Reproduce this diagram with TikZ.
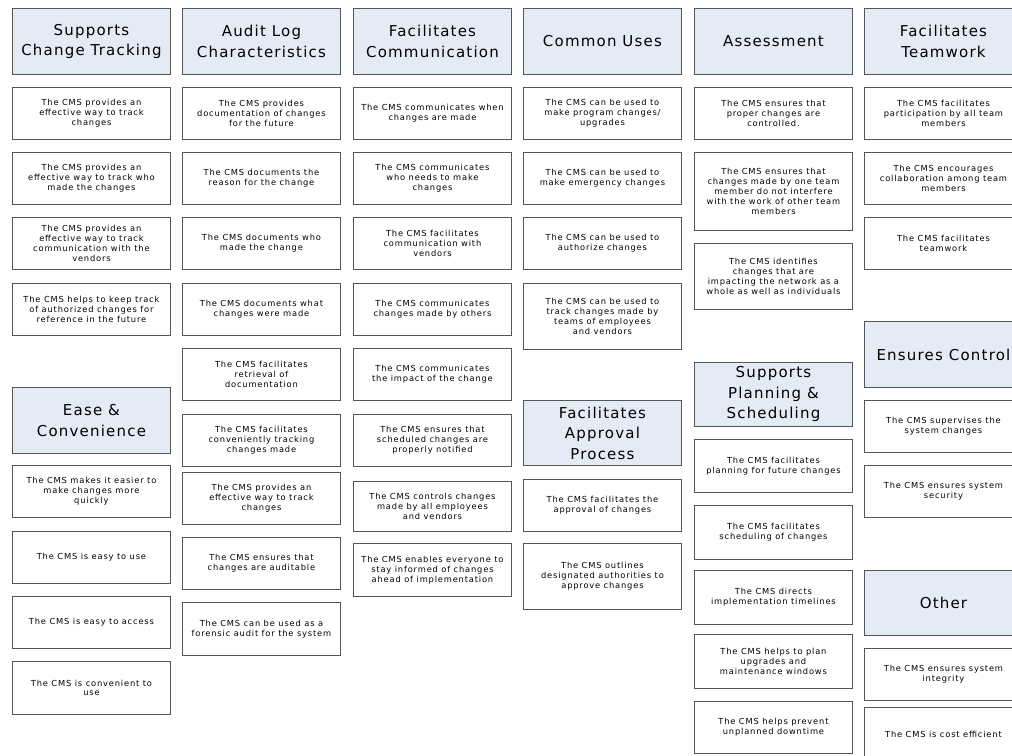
\documentclass[tikz,border=0pt]{standalone}
\usepackage{fontspec}
\newfontfamily\dvsh[LetterSpace=8]{DejaVu Sans}
\newfontfamily\dvsi[LetterSpace=10]{DejaVu Sans}
\definecolor{hdrfill}{HTML}{E5EBF5}
\definecolor{bordergray}{HTML}{555555}
\newcommand{\hdrfont}{\dvsh\fontsize{15}{20.5}\selectfont}
\newcommand{\itemfont}{\dvsi\fontsize{8.3}{9.8}\selectfont}
\tikzset{
  hdr/.style={draw=bordergray, fill=hdrfill, line width=0.9pt, minimum width=158pt,
    inner sep=0pt, anchor=north west, align=center, font=\hdrfont},
  item/.style={draw=bordergray, fill=white, line width=0.9pt, minimum width=158pt,
    inner sep=0pt, anchor=north west, align=center, font=\itemfont}
}
\begin{document}
\begin{tikzpicture}[x=1pt,y=-1pt]
\useasboundingbox (0,0) rectangle (1012,755);
\clip (0,0) rectangle (1012,755);
\fill[white] (0,0) rectangle (1012,755);
% Column 1
\node[hdr, minimum height=66pt] (h1) at (12,8) {Supports\\Change Tracking};
\node[item, minimum height=52pt] (a1) at (12,87) {The CMS provides an\\effective way to track\\changes};
\node[item, minimum height=52pt] (a2) at (12,152) {The CMS provides an\\effective way to track who\\made the changes};
\node[item, minimum height=52pt] (a3) at (12,217) {The CMS provides an\\effective way to track\\communication with the\\vendors};
\node[item, minimum height=52pt] (a4) at (12,283) {The CMS helps to keep track\\of authorized changes for\\reference in the future};
\node[hdr, minimum height=66pt] (h2) at (12,387) {Ease \&\\Convenience};
\node[item, minimum height=52pt] (a5) at (12,465) {The CMS makes it easier to\\make changes more\\quickly};
\node[item, minimum height=52pt] (a6) at (12,531) {The CMS is easy to use};
\node[item, minimum height=52pt] (a7) at (12,596) {The CMS is easy to access};
\node[item, minimum height=53pt] (a8) at (12,661) {The CMS is convenient to\\use};
% Column 2
\node[hdr, minimum height=66pt] (h3) at (182,8) {Audit Log\\Characteristics};
\node[item, minimum height=52pt] (b1) at (182,87) {The CMS provides\\documentation of changes\\for the future};
\node[item, minimum height=52pt] (b2) at (182,152) {The CMS documents the\\reason for the change};
\node[item, minimum height=52pt] (b3) at (182,217) {The CMS documents who\\made the change};
\node[item, minimum height=52pt] (b4) at (182,283) {The CMS documents what\\changes were made};
\node[item, minimum height=52pt] (b5) at (182,348) {The CMS facilitates\\retrieval of\\documentation};
\node[item, minimum height=52pt] (b6) at (182,414) {The CMS facilitates\\conveniently tracking\\changes made};
\node[item, minimum height=52pt] (b7) at (182,472) {The CMS provides an\\effective way to track\\changes};
\node[item, minimum height=52pt] (b8) at (182,537) {The CMS ensures that\\changes are auditable};
\node[item, minimum height=53pt] (b9) at (182,602) {The CMS can be used as a\\forensic audit for the system};
% Column 3
\node[hdr, minimum height=66pt] (h4) at (353,8) {Facilitates\\Communication};
\node[item, minimum height=52pt] (c1) at (353,87) {The CMS communicates when\\changes are made};
\node[item, minimum height=52pt] (c2) at (353,152) {The CMS communicates\\who needs to make\\changes};
\node[item, minimum height=52pt] (c3) at (353,217) {The CMS facilitates\\communication with\\vendors};
\node[item, minimum height=52pt] (c4) at (353,283) {The CMS communicates\\changes made by others};
\node[item, minimum height=52pt] (c5) at (353,348) {The CMS communicates\\the impact of the change};
\node[item, minimum height=52pt] (c6) at (353,414) {The CMS ensures that\\scheduled changes are\\properly notified};
\node[item, minimum height=50pt] (c7) at (353,481) {The CMS controls changes\\made by all employees\\and vendors};
\node[item, minimum height=53pt] (c8) at (353,543) {The CMS enables everyone to\\stay informed of changes\\ahead of implementation};
% Column 4
\node[hdr, minimum height=66pt] (h5) at (523,8) {Common Uses};
\node[item, minimum height=52pt] (d1) at (523,87) {The CMS can be used to\\make program changes/\\upgrades};
\node[item, minimum height=52pt] (d2) at (523,152) {The CMS can be used to\\make emergency changes};
\node[item, minimum height=52pt] (d3) at (523,217) {The CMS can be used to\\authorize changes};
\node[item, minimum height=66pt] (d4) at (523,283) {The CMS can be used to\\track changes made by\\teams of employees\\and vendors};
\node[hdr, minimum height=65pt] (h6) at (523,400) {Facilitates\\Approval\\Process};
\node[item, minimum height=52pt] (d5) at (523,479) {The CMS facilitates the\\approval of changes};
\node[item, minimum height=66pt] (d6) at (523,543) {The CMS outlines\\designated authorities to\\approve changes};
% Column 5
\node[hdr, minimum height=66pt] (h7) at (694,8) {Assessment};
\node[item, minimum height=52pt] (e1) at (694,87) {The CMS ensures that\\proper changes are\\controlled.};
\node[item, minimum height=78pt] (e2) at (694,152) {The CMS ensures that\\changes made by one team\\member do not interfere\\with the work of other team\\members};
\node[item, minimum height=66pt] (e3) at (694,243) {The CMS identifies\\changes that are\\impacting the network as a\\whole as well as individuals};
\node[hdr, minimum height=64pt] (h8) at (694,362) {Supports\\Planning \&\\Scheduling};
\node[item, minimum height=53pt] (e4) at (694,439) {The CMS facilitates\\planning for future changes};
\node[item, minimum height=54pt] (e5) at (694,505) {The CMS facilitates\\scheduling of changes};
\node[item, minimum height=54pt] (e6) at (694,570) {The CMS directs\\implementation timelines};
\node[item, minimum height=54pt] (e7) at (694,634) {The CMS helps to plan\\upgrades and\\maintenance windows};
\node[item, minimum height=52pt] (e8) at (694,701) {The CMS helps prevent\\unplanned downtime};
% Column 6
\node[hdr, minimum height=66pt] (h9) at (864,8) {Facilitates\\Teamwork};
\node[item, minimum height=52pt] (f1) at (864,87) {The CMS facilitates\\participation by all team\\members};
\node[item, minimum height=52pt] (f2) at (864,152) {The CMS encourages\\collaboration among team\\members};
\node[item, minimum height=52pt] (f3) at (864,217) {The CMS facilitates\\teamwork};
\node[hdr, minimum height=66pt] (h10) at (864,321) {Ensures Control};
\node[item, minimum height=52pt] (f4) at (864,400) {The CMS supervises the\\system changes};
\node[item, minimum height=52pt] (f5) at (864,465) {The CMS ensures system\\security};
\node[hdr, minimum height=65pt] (h11) at (864,570) {Other};
\node[item, minimum height=52pt] (f6) at (864,648) {The CMS ensures system\\integrity};
\node[item, minimum height=54pt] (f7) at (864,707) {The CMS is cost efficient};
\end{tikzpicture}
\end{document}
